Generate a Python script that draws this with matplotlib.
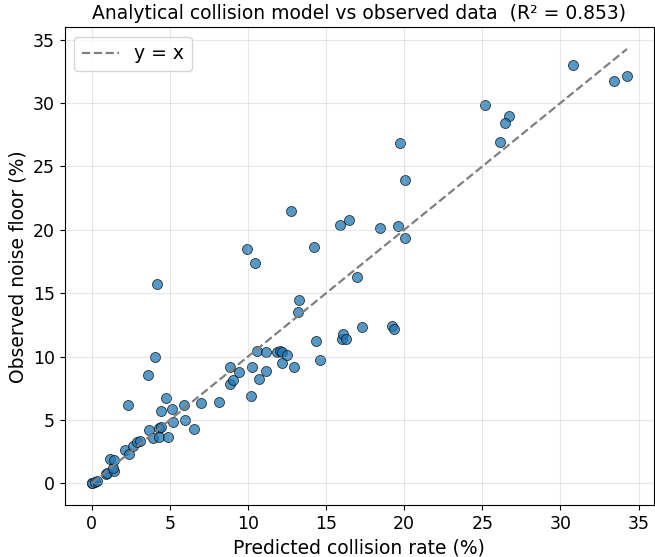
import numpy as np
import matplotlib
matplotlib.use("Agg")
import matplotlib.pyplot as plt

# Valori (percentuali)
predicted = [
    0.0, 0.05, 0.2, 0.35, 0.93, 1.0, 1.44, 1.35, 1.15, 1.45,
    2.15, 2.4, 2.62, 2.9, 3.1, 3.7, 4.32, 4.47, 3.94, 4.3,
    4.89, 4.45, 5.15, 5.23, 5.98, 6.55, 4.78, 2.3, 5.88, 7.03,
    8.13, 3.58, 4.07, 4.21, 8.85, 9.06, 10.72, 10.21, 8.83, 10.25,
    9.42, 11.16, 12.15, 12.96, 10.59, 11.18, 11.86, 12.07, 12.15, 12.53,
    14.59, 14.34, 16.05, 16.1, 16.3, 17.3, 19.19, 19.33, 13.19, 13.3,
    16.98, 10.44, 9.97, 14.2, 15.88, 16.5, 18.47, 19.63, 20.03, 12.75,
    20.03, 19.73, 25.2, 26.7, 26.45, 26.1, 30.8, 33.45, 34.25,
]
observed = [
    0.0, 0.05, 0.15, 0.2, 0.75, 0.85, 0.95, 1.2, 1.93, 1.85,
    2.6, 2.3, 2.92, 3.3, 3.36, 4.23, 4.36, 4.42, 3.55, 3.7,
    3.63, 5.75, 5.87, 4.82, 5.0, 4.33, 6.72, 6.22, 6.22, 6.37,
    6.45, 8.56, 10.0, 15.74, 7.86, 8.14, 8.25, 6.88, 9.17, 9.17,
    8.77, 8.9, 9.46, 9.2, 10.48, 10.35, 10.35, 10.48, 10.35, 10.14,
    9.77, 11.2, 11.42, 11.75, 11.42, 12.37, 12.43, 12.19, 13.5, 14.5,
    16.3, 17.4, 18.46, 18.65, 20.4, 20.8, 20.17, 20.28, 19.36, 21.5,
    23.9, 26.87, 29.8, 29.0, 28.4, 26.9, 33.0, 31.7, 32.1,
]
r2 = 0.853

x = np.array(predicted)
y = np.array(observed)

fig, ax = plt.subplots(figsize=(6.55, 5.57), dpi=100)
fig.subplots_adjust(left=0.099, right=0.998, top=0.951, bottom=0.093)

ax.scatter(x, y, s=52, color="tab:blue", alpha=0.75, edgecolor="black", linewidth=0.6)

# retta y = x
lims = [min(x.min(), y.min()), max(x.max(), y.max())]
ax.plot(lims, lims, "--", color="gray", linewidth=1.6, label="y = x")

ax.set_xlabel("Predicted collision rate (%)", fontsize=13.5)
ax.set_ylabel("Observed noise floor (%)", fontsize=13.5)
ax.set_title(f"Analytical collision model vs observed data  (R\u00b2 = {r2:.3f})", fontsize=13.5)
ax.tick_params(labelsize=12.5)
ax.grid(True, alpha=0.3)
ax.legend(fontsize=13.5, loc="upper left")

fig.savefig("out.png", dpi=100)
